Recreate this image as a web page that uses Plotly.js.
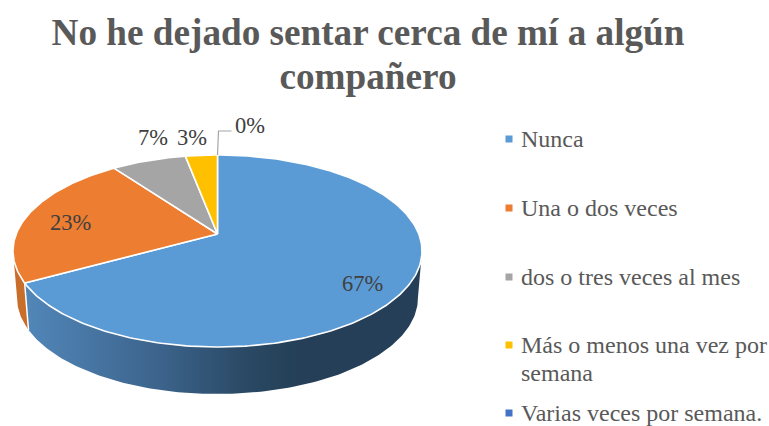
<!DOCTYPE html>
<html>
<head>
<meta charset="utf-8">
<script src="https://cdn.plot.ly/plotly-3.0.1.min.js"></script>
<style>html,body{margin:0;padding:0;background:#fff;overflow:hidden}#chart{width:769px;height:426px}</style>
</head>
<body>
<div id="chart"></div>
<script>
const categories = ["Nunca", "Una o dos veces", "dos o tres veces al mes", "Más o menos una vez por<br>semana", "Varias veces por semana."];
const values = [67, 23, 7, 3, 0];
const labels = ["67%", "23%", "7%", "3%", "0%"];
const colors = ["#5b9bd5", "#ed7d31", "#a5a5a5", "#ffc000", "#4472c4"];
const chartTitle = "No he dejado sentar cerca de mí a algún<br>compañero";

// View geometry of the tilted disc
const CX = 217.5, CY = 234, R = 201.3, S = 93, K = 0.177, DEPTH = 47, SHRINK = 0.98;
const rim = deg => {
  const a = deg * Math.PI / 180, u = Math.sin(a), v = Math.cos(a), w = 1 + K * v;
  return [CX + R * u / w, CY - S * v / w];
};
const lower = deg => {
  const p = rim(deg);
  return [CX + (p[0] - CX) * SHRINK, p[1] + DEPTH];
};
const arc = (fn, a, b) => {
  const n = Math.max(2, Math.ceil(Math.abs(b - a))), out = [];
  for (let i = 0; i <= n; i++) out.push(fn(a + (b - a) * i / n));
  return out;
};
const total = values.reduce((s, v) => s + v, 0);
let cum = 0;
const spans = values.map(v => { const s = cum; cum += v; return [s / total * 360, cum / total * 360]; });

const poly = (pts, extra) => Object.assign({
  x: pts.map(p => p[0]), y: pts.map(p => p[1]), mode: "lines", fill: "toself",
  hoverinfo: "skip", showlegend: false
}, extra);

const traces = [];
// Side walls
const RIGHT_EDGE = 100, LEFT_EDGE = 260;
const wallOrange = arc(rim, spans[0][1], LEFT_EDGE).concat(arc(lower, LEFT_EDGE, spans[0][1]));
traces.push(poly(wallOrange.concat([wallOrange[0]]), {
  line: {color: "rgba(255,255,255,0)", width: 0}, fillcolor: "#c96d2b"
}));
const wallBlue = arc(rim, RIGHT_EDGE, spans[0][1]).concat(arc(lower, spans[0][1], RIGHT_EDGE));
traces.push(poly(wallBlue.concat([wallBlue[0]]), {
  line: {color: "rgba(255,255,255,0)", width: 0},
  fillgradient: {type: "horizontal", start: 28, stop: 300,
    colorscale: [[0, "#5186b8"], [0.5, "#3b628a"], [0.8, "#2a4964"], [1, "#243f57"]]}
}));
// White seam between the walls
const seamTop = rim(spans[0][1]), seamBottom = lower(spans[0][1]);
traces.push({x: [seamTop[0], seamBottom[0]], y: [seamTop[1], seamBottom[1]], mode: "lines",
  line: {color: "#ffffff", width: 1.5}, hoverinfo: "skip", showlegend: false});
// Top faces
values.forEach((v, i) => {
  if (v <= 0) return;
  const pts = [[CX, CY]].concat(arc(rim, spans[i][0], spans[i][1]), [[CX, CY]]);
  traces.push(poly(pts, {line: {color: "#ffffff", width: 1.6}, fillcolor: colors[i]}));
});
// Leader line of the empty slice
const anchor = rim(spans[4][0]);
traces.push({x: [anchor[0], anchor[0] + 1, anchor[0] + 14], y: [anchor[1], 131, 131], mode: "lines",
  line: {color: "#a6a6a6", width: 1.2}, hoverinfo: "skip", showlegend: false});
// Legend marks
const legendY = [139, 208, 277, 345, 413];
traces.push({x: legendY.map(() => 509), y: legendY, mode: "markers",
  marker: {symbol: "square", size: 7, color: colors}, hoverinfo: "skip", showlegend: false});

const labelPos = [[362, 283], [70, 222], [153, 137], [192, 137], [250, 125]];
const annotations = labels.map((t, i) => ({
  text: t, x: labelPos[i][0], y: labelPos[i][1], xref: "x", yref: "y", showarrow: false,
  xanchor: "center", yanchor: "middle", font: {family: "Liberation Serif", size: 22.5, color: "#404040"}
}));
categories.forEach((c, i) => annotations.push({
  text: c, x: 520, y: legendY[i] - 14, xref: "x", yref: "y", showarrow: false,
  xanchor: "left", yanchor: "top", align: "left", borderpad: 0,
  font: {family: "Liberation Serif", size: 24, color: "#595959"}
}));

const layout = {
  width: 769, height: 426, margin: {l: 0, r: 0, t: 0, b: 0},
  paper_bgcolor: "#ffffff", plot_bgcolor: "#ffffff", showlegend: false,
  title: {text: chartTitle, x: 368 / 769, xanchor: "center", y: 1 - 45 / 426, yanchor: "top",
    font: {family: "Liberation Serif", size: 37.2, color: "#595959", weight: "bold"}},
  xaxis: {range: [0, 769], visible: false, fixedrange: true},
  yaxis: {range: [426, 0], visible: false, fixedrange: true},
  annotations
};
Plotly.newPlot("chart", traces, layout, {displayModeBar: false, staticPlot: true}).then(() => {
  // Tighter leading for the two wrapped texts, as in the reference
  const titleLines = document.querySelectorAll(".gtitle tspan.line");
  if (titleLines[1]) titleLines[1].setAttribute("dy", "44px");
  document.querySelectorAll(".annotation-text tspan.line").forEach(t => {
    if (t.textContent === "semana") t.setAttribute("dy", "28px");
  });
});
</script>
</body>
</html>
